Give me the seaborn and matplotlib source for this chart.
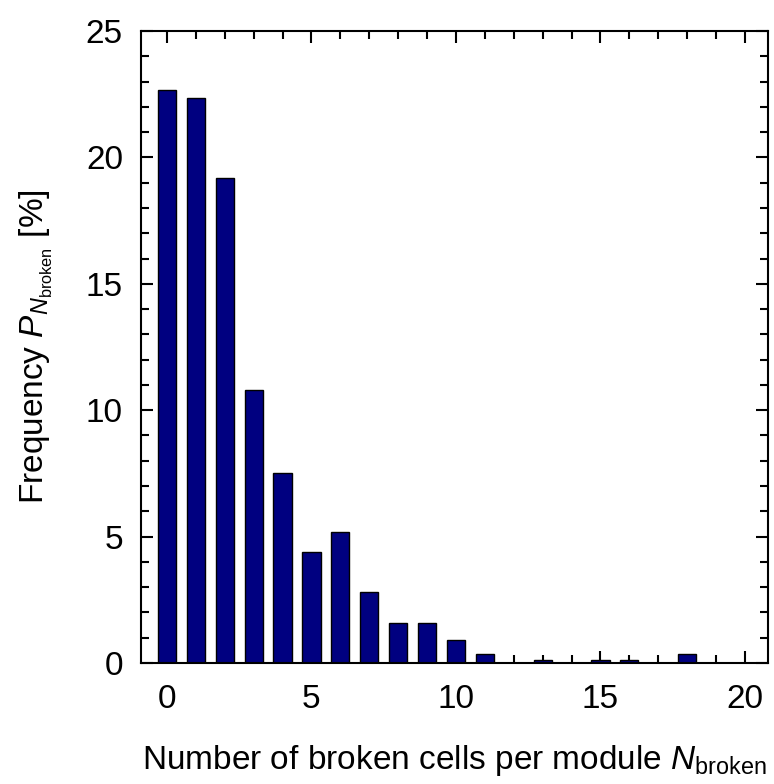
import matplotlib
matplotlib.use("Agg")
import matplotlib.pyplot as plt
import seaborn as sns
import pandas as pd
from matplotlib.ticker import MultipleLocator

n_broken = list(range(0, 21))
frequency = [22.65, 22.35, 19.2, 10.8, 7.5, 4.4, 5.2, 2.8, 1.6, 1.6, 0.9,
             0.35, 0.0, 0.12, 0.0, 0.12, 0.12, 0.0, 0.35, 0.0, 0.0]

df = pd.DataFrame({"n": n_broken, "freq": frequency})

sns.set_theme(style="ticks")
plt.rcParams['font.family'] = ['Liberation Sans', 'DejaVu Sans']
plt.rcParams['mathtext.fontset'] = 'custom'
plt.rcParams['mathtext.rm'] = 'Liberation Sans'
plt.rcParams['mathtext.it'] = 'Liberation Sans:italic'
plt.rcParams['text.color'] = 'black'
plt.rcParams['axes.labelcolor'] = 'black'
plt.rcParams['xtick.color'] = 'black'
plt.rcParams['ytick.color'] = 'black'

fig = plt.figure(figsize=(7.74, 7.84), dpi=100)
ax = fig.add_axes([141/774, 1 - 663/784, (768-141)/774, (663-31)/784])

sns.barplot(data=df, x="n", y="freq", native_scale=True, width=0.63,
            color="#000080", edgecolor="black", linewidth=1.0,
            saturation=1, ax=ax, errorbar=None)

ax.set_xlim(-0.9, 20.8)
ax.set_ylim(0, 25)
ax.xaxis.set_major_locator(MultipleLocator(5))
ax.xaxis.set_minor_locator(MultipleLocator(1))
ax.yaxis.set_major_locator(MultipleLocator(5))
ax.yaxis.set_minor_locator(MultipleLocator(1))
ax.tick_params(which="both", direction="in", top=True, right=True,
               labelsize=24, width=1.5, colors="black")
ax.tick_params(which="major", length=8.5)
ax.tick_params(which="minor", length=5.5)
ax.tick_params(axis="x", which="major", pad=15)
ax.tick_params(axis="y", which="major", pad=13)
for s in ax.spines.values():
    s.set_linewidth(1.5)
    s.set_color("black")

ax.set_xlabel(r"Number of broken cells per module $N_{\mathrm{broken}}$", fontsize=24, labelpad=20)
ax.set_ylabel(r"Frequency $P_{N_{\mathrm{broken}}}$ [%]", fontsize=24, labelpad=22)

fig.savefig("out.png", dpi=100)
